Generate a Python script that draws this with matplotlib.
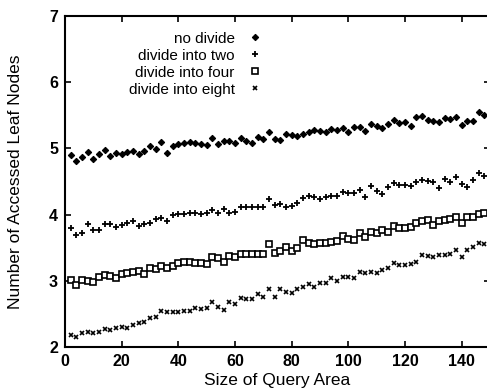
import numpy as np
import matplotlib.pyplot as plt

plt.rcParams['font.family'] = ['Liberation Sans', 'DejaVu Sans']

# query area sizes
x = np.arange(2, 150, 2)

no_divide = [4.90, 4.81, 4.865, 4.94, 4.835, 4.915, 4.975, 4.89, 4.925, 4.91,
             4.94, 4.965, 4.915, 4.965, 5.035, 4.985, 5.09, 4.935, 5.04, 5.07,
             5.08, 5.09, 5.08, 5.06, 5.05,
             5.152, 5.066, 5.112, 5.117, 5.076, 5.162, 5.117, 5.076, 5.167, 5.142,
             5.243, 5.137, 5.127, 5.212, 5.197, 5.192, 5.212, 5.253, 5.278, 5.268,
             5.253, 5.288, 5.278, 5.303, 5.253,
             5.328, 5.318, 5.263, 5.363, 5.338, 5.303, 5.363, 5.429, 5.378, 5.404,
             5.338, 5.469, 5.489, 5.429, 5.419, 5.394, 5.464, 5.444, 5.479, 5.353,
             5.414, 5.419, 5.555, 5.505]

divide_two = [3.792, 3.692, 3.727, 3.858, 3.767, 3.767, 3.858, 3.858, 3.808, 3.843,
              3.878, 3.908, 3.828, 3.858, 3.878, 3.928, 3.943, 3.908, 3.994, 4.004,
              4.004, 4.019, 4.019, 4.009, 4.019,
              4.069, 4.029, 4.079, 4.029, 4.044, 4.120, 4.110, 4.110, 4.110, 4.110,
              4.230, 4.145, 4.155, 4.120, 4.130, 4.170, 4.256, 4.281, 4.271, 4.230,
              4.271, 4.281, 4.281, 4.346, 4.331,
              4.321, 4.372, 4.261, 4.432, 4.361, 4.306, 4.412, 4.472, 4.447, 4.447,
              4.432, 4.497, 4.523, 4.513, 4.497, 4.397, 4.533, 4.497, 4.573, 4.462,
              4.422, 4.523, 4.623, 4.583]

divide_four = [3.012, 2.937, 3.012, 3.002, 2.987, 3.062, 3.088, 3.073, 3.037, 3.103,
               3.123, 3.138, 3.153, 3.103, 3.188, 3.173, 3.223, 3.188, 3.223, 3.264,
               3.289, 3.289, 3.274, 3.264, 3.254,
               3.364, 3.339, 3.289, 3.374, 3.354, 3.405, 3.405, 3.405, 3.405, 3.405,
               3.556, 3.425, 3.455, 3.516, 3.455, 3.490, 3.616, 3.576, 3.556, 3.566,
               3.576, 3.591, 3.606, 3.677, 3.626,
               3.616, 3.727, 3.656, 3.742, 3.717, 3.767, 3.742, 3.828, 3.792, 3.792,
               3.808, 3.868, 3.908, 3.918, 3.843, 3.908, 3.918, 3.928, 3.969, 3.878,
               3.959, 3.969, 4.009, 4.019]

divide_eight = [2.181, 2.146, 2.206, 2.231, 2.216, 2.231, 2.267, 2.257, 2.292, 2.307,
                2.292, 2.332, 2.367, 2.383, 2.433, 2.458, 2.549, 2.534, 2.524, 2.534,
                2.549, 2.549, 2.584, 2.569, 2.584,
                2.685, 2.609, 2.559, 2.685, 2.650, 2.735, 2.720, 2.720, 2.800, 2.760,
                2.871, 2.760, 2.871, 2.836, 2.821, 2.871, 2.901, 2.952, 2.911, 2.962,
                2.972, 3.037, 3.002, 3.062, 3.062,
                3.037, 3.138, 3.113, 3.138, 3.123, 3.163, 3.188, 3.264, 3.238, 3.238,
                3.254, 3.289, 3.390, 3.375, 3.354, 3.390, 3.390, 3.405, 3.465, 3.364,
                3.465, 3.506, 3.566, 3.556]

fig = plt.figure(figsize=(4.87, 3.92), dpi=100)
ax = fig.add_axes([65/487, 45/392, 425/487, 331/392])

ax.plot(x, no_divide, ls='none', marker='D', ms=3.2, mfc='black', mec='black',
        mew=0.8, label='no divide')
ax.plot(x, divide_two, ls='none', marker='+', ms=4, color='black', mew=1.3,
        label='divide into two')
ax.plot(x, divide_four, ls='none', marker='s', ms=4.3, mfc='white', mec='black',
        mew=1.2, label='divide into four')
ax.plot(x, divide_eight, ls='none', marker='x', ms=3.5, color='black', mew=1.2,
        label='divide into eight')

ax.set_xlim(0, 150)
ax.set_ylim(2, 7)
ax.set_xticks(range(0, 141, 20))
ax.set_yticks(range(2, 8))
ax.tick_params(direction='in', top=True, right=True, length=4, width=1.2,
               labelsize=11.5, pad=5)
for lab in ax.get_xticklabels() + ax.get_yticklabels():
    lab.set_fontweight('bold')
for sp in ax.spines.values():
    sp.set_linewidth(1.5)

ax.set_xlabel('Size of Query Area', fontsize=12.5, labelpad=3)
ax.set_ylabel('Number of Accessed Leaf Nodes', fontsize=12.5, labelpad=19)

ax.legend(loc='upper left', bbox_to_anchor=(0.125, 0.985), frameon=False,
          markerfirst=False, fontsize=11, labelspacing=0.2, handlelength=1.2,
          handletextpad=0.7, borderaxespad=0.3)

fig.savefig('out.png', dpi=100)
